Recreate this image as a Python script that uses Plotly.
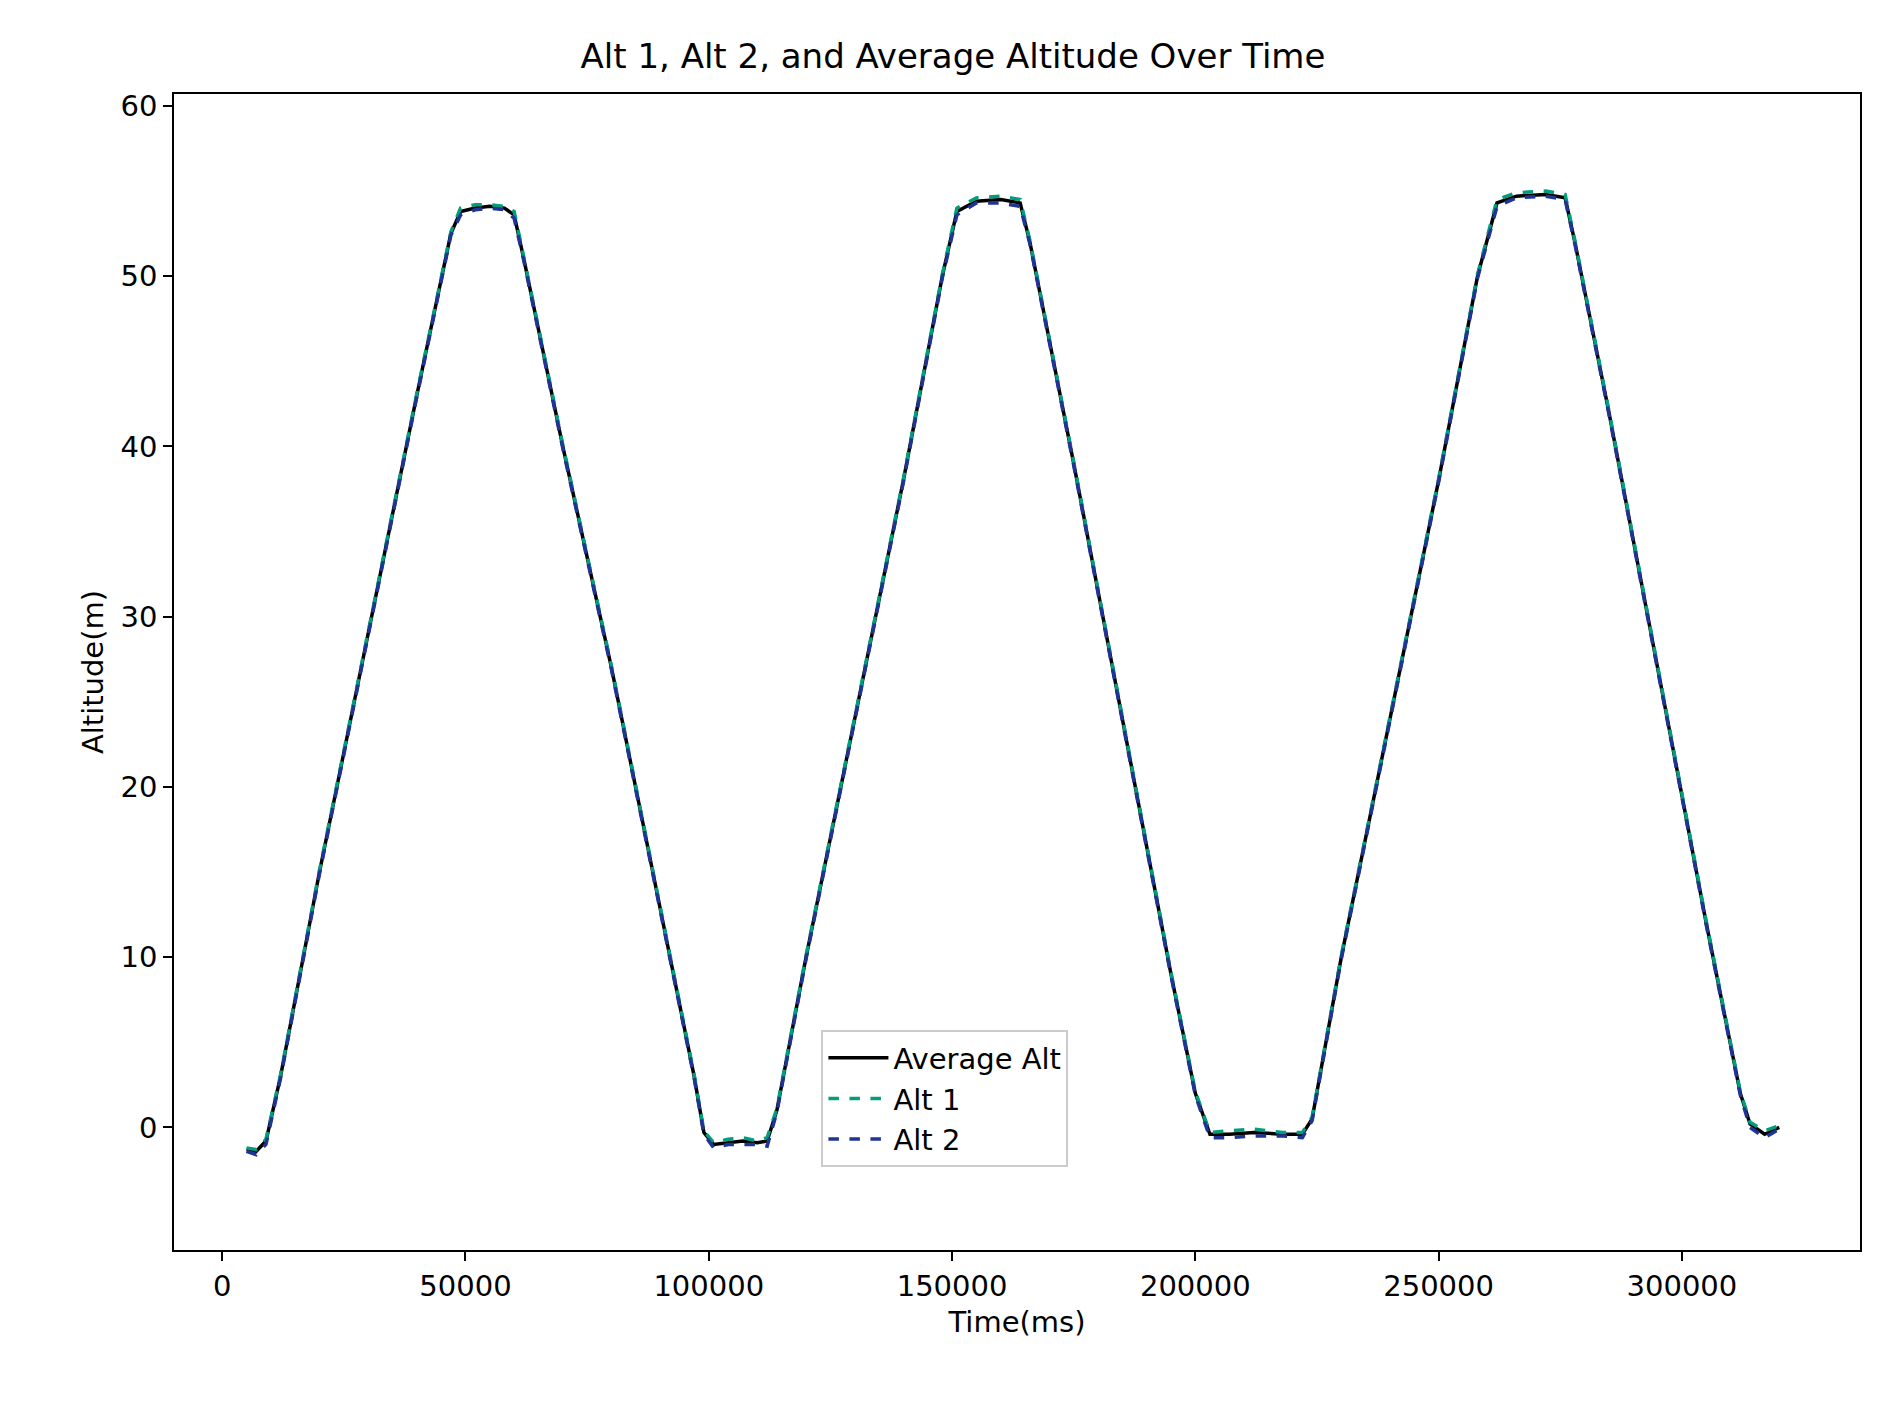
import plotly.graph_objects as go

time_ms = [5000, 7000, 9000, 12000, 20000, 30000, 40000, 47000, 49000, 52000, 55000, 58000, 60000,
           62000, 70000, 80000, 90000, 97000, 99000, 101000, 104000, 107000, 110000, 112000,
           114000, 120000, 130000, 140000, 148000, 151000, 155000, 160000, 164000,
           166000, 175000, 185000, 195000, 200000, 203000, 207000, 212000, 218000, 222000,
           224000, 230000, 240000, 250000, 258000, 262000, 266000, 272000, 276000,
           278000, 285000, 295000, 305000, 312000, 314000, 317000, 320000]

avg_alt = [-1.3, -1.4, -0.8, 3, 15, 29, 43, 52.5, 53.8, 54.0, 54.1, 54.0, 53.6,
           51, 40, 27, 13, 3, -0.3, -1.0, -0.9, -0.8, -0.9, -0.8,
           1, 10, 24, 38, 50, 53.8, 54.4, 54.5, 54.3,
           52, 39, 24, 9, 2, -0.4, -0.4, -0.3, -0.4, -0.4,
           0.5, 10, 24, 38, 50, 54.3, 54.7, 54.8, 54.6,
           52, 42, 27, 12, 2, 0.2, -0.4, 0.0]

alt1 = [-1.2, -1.3, -0.7, 3.1, 15.1, 29.1, 43.1, 52.6, 54.0, 54.2, 54.2, 54.1, 53.8,
        51.1, 40.1, 27.1, 13.1, 3.1, -0.2, -0.9, -0.7, -0.6, -0.8, -0.6,
        1.1, 10.1, 24.1, 38.1, 50.1, 54.0, 54.6, 54.7, 54.5,
        52.1, 39.1, 24.1, 9.1, 2.1, -0.3, -0.2, -0.1, -0.3, -0.3,
        0.6, 10.1, 24.1, 38.1, 50.1, 54.5, 54.9, 55.0, 54.8,
        52.1, 42.1, 27.1, 12.1, 2.1, 0.3, -0.2, 0.1]

alt2 = [-1.4, -1.6, -1.0, 2.9, 14.9, 28.9, 42.9, 52.4, 53.6, 53.9, 54.0, 53.9, 53.4,
        50.9, 39.9, 26.9, 12.9, 2.9, -0.4, -1.2, -1.0, -1.0, -1.0, -1.1,
        0.9, 9.9, 23.9, 37.9, 49.9, 53.6, 54.3, 54.3, 54.1,
        51.9, 38.9, 23.9, 8.9, 1.9, -0.6, -0.6, -0.5, -0.5, -0.6,
        0.4, 9.9, 23.9, 37.9, 49.9, 54.1, 54.6, 54.7, 54.5,
        51.9, 41.9, 26.9, 11.9, 1.9, 0.0, -0.6, -0.1]

fig = go.Figure()
fig.add_trace(go.Scatter(x=time_ms, y=avg_alt, mode="lines", name="Average Alt",
                         line=dict(color="black", width=3.5)))
fig.add_trace(go.Scatter(x=time_ms, y=alt1, mode="lines", name="Alt 1",
                         line=dict(color="#009e7c", width=3.5, dash="dash")))
fig.add_trace(go.Scatter(x=time_ms, y=alt2, mode="lines", name="Alt 2",
                         line=dict(color="#1f3494", width=3.5, dash="dash")))

axis = dict(showgrid=False, zeroline=False, showline=True, mirror=True, linecolor="black",
            linewidth=1.5, ticks="outside", ticklen=9, tickwidth=1.5, tickcolor="black",
            tickfont=dict(size=29, color="black"))

fig.update_layout(
    width=1890, height=1410,
    paper_bgcolor="white", plot_bgcolor="white",
    font=dict(family="DejaVu Sans", color="black"),
    margin=dict(l=166, r=38, t=86, b=168),
    title=dict(text="Alt 1, Alt 2, and Average Altitude Over Time", x=0.5, xanchor="center",
               y=0.966, yanchor="middle", font=dict(size=34)),
    xaxis=dict(axis, range=[-9900, 336600], tickvals=[0, 50000, 100000, 150000, 200000, 250000, 300000],
               tickformat="d", title=dict(text="Time(ms)", font=dict(size=29), standoff=10)),
    yaxis=dict(axis, range=[-7.2, 60.7], tickvals=[0, 10, 20, 30, 40, 50, 60],
               title=dict(text="Altitude(m)", font=dict(size=29), standoff=8)),
    legend=dict(x=0.384, y=0.19, xanchor="left", yanchor="top", bgcolor="rgba(255,255,255,0.8)",
                bordercolor="#cccccc", borderwidth=2, font=dict(size=29), itemwidth=60),
    showlegend=True,
)

fig.write_html("out.html")
